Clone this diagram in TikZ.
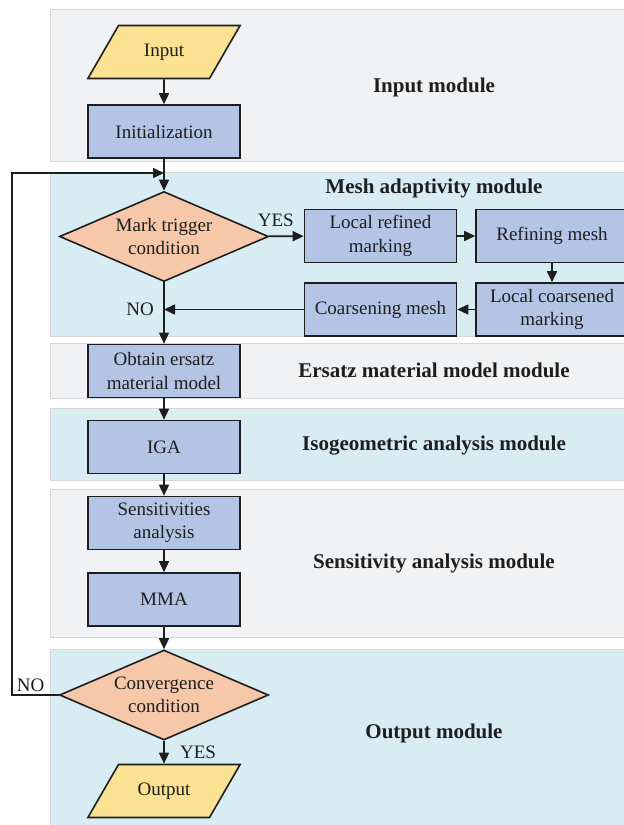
\documentclass[tikz,border=0pt]{standalone}
\usepackage{fontspec}
\setmainfont{Liberation Serif}
\usetikzlibrary{shapes.geometric,arrows.meta}
\definecolor{pgray}{RGB}{240,242,244}
\definecolor{pblue}{RGB}{216,236,243}
\definecolor{pline}{RGB}{214,216,218}
\definecolor{boxc}{RGB}{180,196,228}
\definecolor{decc}{RGB}{246,199,169}
\definecolor{ioc}{RGB}{250,226,146}
\definecolor{lk}{RGB}{30,30,30}
\begin{document}
\begin{tikzpicture}[x=1pt,y=-1pt,
  txt/.style={font=\fontsize{19}{23.5}\selectfont,align=center,text=lk},
  mod/.style={font=\bfseries\fontsize{21}{25}\selectfont,text=lk},
  proc/.style={txt,draw=lk,line width=1.6pt,fill=boxc,minimum width=152pt,minimum height=53pt,inner sep=2pt},
  dec/.style={txt,diamond,draw=lk,line width=1.6pt,fill=decc,aspect=2.3,inner sep=0pt,minimum width=209pt,minimum height=90pt},
  io/.style={txt,trapezium,trapezium left angle=60,trapezium right angle=120,draw=lk,line width=1.6pt,fill=ioc,
    text width=91pt,text height=13pt,text depth=4pt,inner xsep=0pt,inner ysep=18pt},
  arr/.style={draw=lk,line width=1.6pt,-{Triangle[length=11pt,width=10pt]}}]
  \useasboundingbox (0,0) rectangle (624,825);
  % module panels
  \foreach \ya/\yb/\c in {9/161/pgray,172/336/pblue,343/398/pgray,408/480/pblue,489/637/pgray,649/830/pblue}
    \draw[pline,fill=\c] (50,\ya) rectangle (632,\yb);
  \foreach \i/\y/\t in {1/87/Input module,2/188/Mesh adaptivity module,3/370/Ersatz material model module,
      4/446/Isogeometric analysis module,5/563/Sensitivity analysis module,6/733/Output module}
    \node[mod] (mod\i) at (434,\y) {\t};

  \node[io] (inp) at (164,52) {Input};
  \node[proc] (init) at (164,131.5) {Initialization};
  \node[dec] (mark) at (164,236.5) {Mark trigger\\condition};
  \node[proc] (lref) at (380.5,236) {Local refined\\marking};
  \node[proc] (refm) at (552,236) {Refining mesh};
  \node[proc] (lcoa) at (552,309.5) {Local coarsened\\marking};
  \node[proc] (coam) at (380.5,309.5) {Coarsening mesh};
  \node[proc] (ers) at (164,371) {Obtain ersatz\\material model};
  \node[proc] (iga) at (164,447) {IGA};
  \node[proc] (sens) at (164,523) {Sensitivities\\analysis};
  \node[proc] (mma) at (164,599.5) {MMA};
  \node[dec] (conv) at (164,695) {Convergence\\condition};
  \node[io] (outp) at (164,791) {Output};
  \coordinate (jn) at (164,173);
  \coordinate (lx) at (12,0);

  \draw[arr] (inp) -- (init);
  \draw[arr] (init) -- (mark);
  \draw[arr] (conv.west) -- node[txt,above,pos=.6,inner sep=3pt]{NO} (conv.west -| lx) |- (jn);
  \draw[arr] (mark) -- node[txt,above,pos=.2,inner sep=9pt]{YES} (lref);
  \draw[arr] (lref) -- (refm);
  \draw[arr] (refm) -- (lcoa);
  \draw[arr] (lcoa) -- (coam);
  \draw[arr] (coam) -- (coam -| mark.south) node[txt,left=6pt]{NO};
  \draw[arr] (mark) -- (ers);
  \foreach \a/\b in {ers/iga,iga/sens,sens/mma,mma/conv}
    \draw[arr] (\a) -- (\b);
  \draw[arr] (conv) -- node[txt,right=12pt]{YES} (outp);
\end{tikzpicture}
\end{document}
